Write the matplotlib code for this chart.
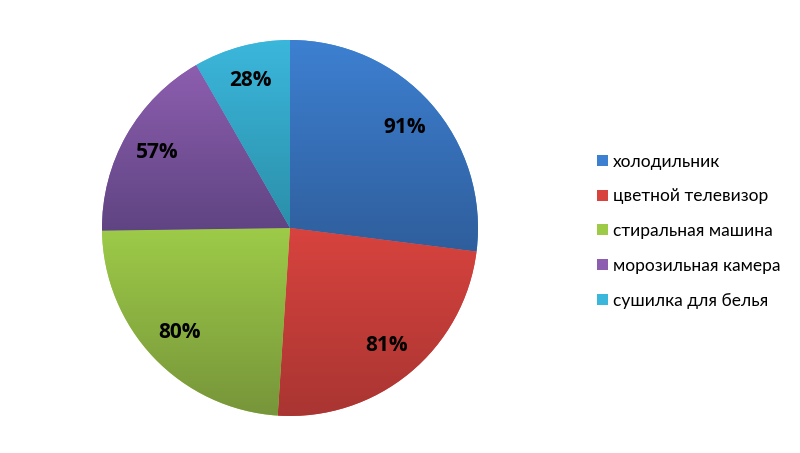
import numpy as np
import matplotlib
matplotlib.use('Agg')
import matplotlib.pyplot as plt
from matplotlib.colors import to_rgb

# data
categories = ['холодильник', 'цветной телевизор', 'стиральная машина',
              'морозильная камера', 'сушилка для белья']
values = [91, 81, 80, 57, 28]
top_colors = ['#3D80D1', '#D8433E', '#9DCB48', '#8D5EAF', '#3BB7DC']
bottom_colors = ['#2F5E9C', '#A93532', '#77953A', '#5F4482', '#2B8FA9']

plt.rcParams['font.family'] = ['Open Sans', 'DejaVu Sans']

fig = plt.figure(figsize=(8, 4.53), dpi=100)
ax = fig.add_axes([0.1275, 0.0817, 0.47, 0.83])

total = sum(values)
wedges, texts, autotexts = ax.pie(
    values, startangle=90, counterclock=False,
    colors=top_colors, radius=1,
    autopct=lambda p: f'{round(p * total / 100)}%', pctdistance=0.81,
    wedgeprops=dict(linewidth=0),
    textprops=dict(fontsize=15, fontweight='bold', color='black'))

# vertical gradient inside each wedge
for w, c1, c2 in zip(wedges, top_colors, bottom_colors):
    bb = w.get_path().get_extents()
    g = np.linspace(0, 1, 256)[:, None, None]
    img = (1 - g) * np.array(to_rgb(c1)) + g * np.array(to_rgb(c2))
    img = np.repeat(img, 2, axis=1)
    im = ax.imshow(img, extent=[bb.x0, bb.x1, bb.y0, bb.y1], origin='upper',
                   aspect='auto', zorder=w.get_zorder(), interpolation='bilinear')
    im.set_clip_path(w)
for t in autotexts:
    t.set_zorder(5)

ax.set_xlim(-1, 1)
ax.set_ylim(-1, 1)
ax.set_aspect('equal')
ax.axis('off')

leg = fig.legend(wedges, categories, loc='center left',
                 bbox_to_anchor=(0.727, 0.49), frameon=False,
                 prop=dict(family=['Lato', 'DejaVu Sans'], size=12.5),
                 handlelength=0.6, handleheight=0.6,
                 handletextpad=0.3, labelspacing=1.08)
for h, c in zip(leg.legend_handles, top_colors):
    h.set_facecolor(c)

fig.savefig('out.png', dpi=100)
